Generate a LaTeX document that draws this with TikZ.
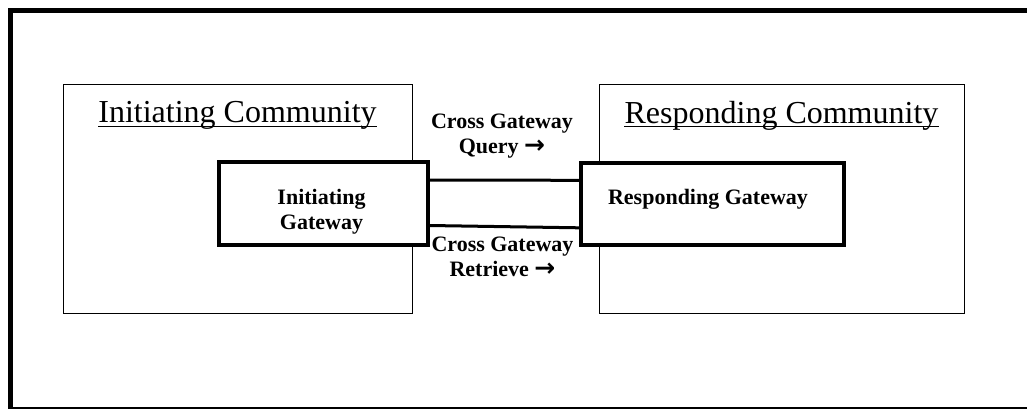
\documentclass[tikz,border=0pt]{standalone}
\usepackage{fontspec}
\setmainfont{Liberation Serif}
\newfontfamily\arrowfont{DejaVu Sans}
\newcommand{\boldarrow}{{\arrowfont\bfseries\fontsize{25}{25}\selectfont →}}
\tikzset{
  frame/.style={draw, line width=5pt},
  community/.style={draw, line width=1.4pt, fill=white, anchor=north west, inner sep=0pt},
  gateway/.style={draw, line width=3.5pt, fill=white, anchor=north west, inner sep=0pt},
  title/.style={font=\fontsize{32}{38}\selectfont, anchor=base, inner sep=0pt},
  gwtext/.style={font=\fontsize{22}{25}\selectfont\bfseries, align=center, anchor=base, inner sep=0pt},
  link/.style={line width=3pt},
  underlined/.style={line width=1.3pt}
}
\begin{document}
\begin{tikzpicture}[x=1pt, y=-1pt]
  \useasboundingbox (0,0) rectangle (1027,408);
  % outer frame: top, left and bottom sides (the right side lies off the page)
  \coordinate (f1) at (1060,10);
  \coordinate (f2) at (10,10);
  \coordinate (f3) at (10,409.5);
  \coordinate (f4) at (1060,409.5);
  \draw[frame] (f1) -- (f2) -- (f3) -- (f4);

  % communities
  \node[community, minimum width=349pt, minimum height=229pt] (ic) at (63,84) {};
  \node[community, minimum width=365pt, minimum height=229pt] (rc) at (599,84) {};

  \node[title] (ictitle) at (237.5,122.7) {Initiating Community};
  \node[title] (rctitle) at (781.5,123) {Responding Community};
  \draw[underlined] ([yshift=-3.6pt]ictitle.base west) -- ([yshift=-3.6pt]ictitle.base east);
  \draw[underlined] ([yshift=-3.6pt]rctitle.base west) -- ([yshift=-3.6pt]rctitle.base east);

  % gateways
  \node[gateway, minimum width=209pt, minimum height=83pt] (igw) at (217,160) {};
  \node[gateway, minimum width=263pt, minimum height=82pt] (rgw) at (579,161) {};
  \node[gwtext] (igwtext) at (321.5,229) {Initiating\\Gateway};
  \node[gwtext] (rgwtext) at (708,204) {Responding Gateway};

  % links between the gateways
  \draw[link] ([yshift=-20pt]igw.north east) -- ([yshift=-19.3pt]rgw.north west);
  \draw[link] ([yshift=21pt]igw.south east) -- ([yshift=18.7pt]rgw.south west);

  % transaction labels
  \node[gwtext] (query) at (502,153) {Cross Gateway\\Query \boldarrow};
  \node[gwtext] (retrieve) at (502.5,276) {Cross Gateway\\Retrieve \boldarrow};
\end{tikzpicture}
\end{document}
